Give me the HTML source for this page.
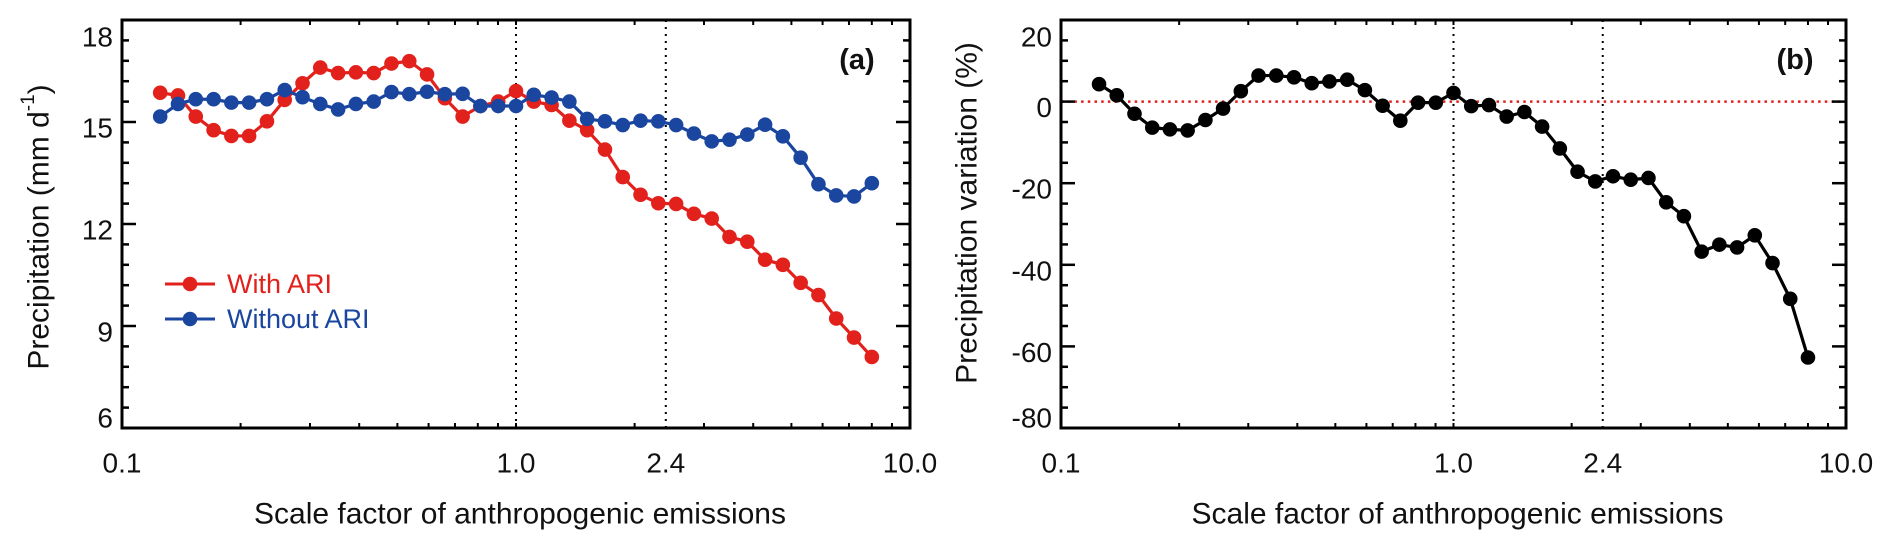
<!DOCTYPE html>
<html><head><meta charset="utf-8"><style>
html,body{margin:0;padding:0;background:#fff;}
svg{display:block;font-family:"Liberation Sans",Arial,sans-serif;}
</style></head><body>
<svg id="chart" width="1892" height="547" viewBox="0 0 1892 547" xmlns="http://www.w3.org/2000/svg"></svg>
<script>
const scaleFactors = [0.125,0.1387,0.1539,0.1708,0.1895,0.2102,0.2333,0.2588,0.2872,0.3186,0.3536,0.3923,0.4353,0.4830,0.5359,0.5946,0.6598,0.7320,0.8123,0.9013,1.0,1.1096,1.2311,1.3660,1.5157,1.6818,1.8661,2.0705,2.2974,2.5491,2.8284,3.1383,3.4822,3.8637,4.2871,4.7568,5.2780,5.8563,6.4980,7.2100,8.0];
const withARI = [15.86,15.78,15.16,14.76,14.59,14.59,15.02,15.65,16.14,16.60,16.44,16.46,16.44,16.72,16.79,16.40,15.70,15.16,15.47,15.60,15.91,15.60,15.50,15.04,14.76,14.19,13.38,12.86,12.61,12.59,12.30,12.16,11.62,11.48,10.95,10.80,10.27,9.91,9.22,8.66,8.09];
const withoutARI = [15.16,15.53,15.67,15.67,15.57,15.57,15.67,15.94,15.73,15.53,15.37,15.53,15.60,15.88,15.82,15.89,15.82,15.83,15.47,15.47,15.47,15.80,15.72,15.60,15.09,15.02,14.91,15.04,15.02,14.91,14.66,14.43,14.48,14.63,14.92,14.58,13.95,13.17,12.84,12.81,13.20];
const variation = [4.26,1.53,-2.98,-6.38,-6.81,-7.06,-4.51,-1.70,2.55,6.38,6.38,5.96,4.51,4.94,5.36,2.81,-1.02,-4.68,-0.26,-0.26,2.13,-1.11,-0.85,-3.66,-2.55,-6.13,-11.49,-17.19,-19.57,-18.30,-19.15,-18.72,-24.68,-28.09,-36.77,-35.06,-35.74,-32.77,-39.57,-48.34,-62.72];
const xTickLabels = ["0.1","1.0","2.4","10.0"];
const xTickValues = [0.1,1.0,2.4,10.0];
const refLines = [1.0,2.4];
const yTicksA = [18,15,12,9,6];
const yTicksB = [20,0,-20,-40,-60,-80];

const NS="http://www.w3.org/2000/svg";
const svg=document.getElementById('chart');
function el(tag,attrs,parent,text){const e=document.createElementNS(NS,tag);for(const k in attrs)e.setAttribute(k,attrs[k]);if(text!==undefined)e.textContent=text;(parent||svg).appendChild(e);return e;}

function panel(cfg){
  const g=el('g',{});
  
  
  const L=cfg.left,R=cfg.right,T=20,B=428;
  const xs=v=>L+(Math.log10(v)+1)/2*(R-L);
  const ys=v=>T+(cfg.ymax-v)/(cfg.ymax-cfg.ymin)*(B-T);
  if(cfg.zero){
    const z=el('line',{x1:L,x2:R,y1:ys(0),y2:ys(0),stroke:'#e0201c','stroke-width':2.5,'stroke-dasharray':'2.5 4.2'},g);
    
    
  }
  refLines.forEach(v=>{
    const l=el('line',{x1:xs(v),x2:xs(v),y1:T,y2:B,stroke:'#000','stroke-width':2,'stroke-dasharray':'2 5'},g);
    
    
  });
  [0.2,0.3,0.4,0.5,0.6,0.7,0.8,0.9,1,2,3,4,5,6,7,8,9].forEach(v=>{
    const x=xs(v);
    el('line',{x1:x,x2:x,y1:B,y2:B-5,stroke:'#000','stroke-width':2},g);
    el('line',{x1:x,x2:x,y1:T,y2:T+5,stroke:'#000','stroke-width':2},g);
  });
  for(let v=cfg.ymin;v<=cfg.ymax+1e-6;v+=cfg.minor){
    const y=ys(v);const major=cfg.ticks.some(t=>Math.abs(t-v)<1e-6);const len=major?14:7;
    el('line',{x1:L,x2:L+len,y1:y,y2:y,stroke:'#000','stroke-width':2.5},g);
    el('line',{x1:R,x2:R-len,y1:y,y2:y,stroke:'#000','stroke-width':2.5},g);
  }
  cfg.ticks.forEach(v=>{
    const y=Math.min(Math.max(ys(v)+6,37),418);
    const t=el('text',{x:L-9,y:y,'text-anchor':'end','dominant-baseline':'central','font-size':28,fill:'#111'},g,String(v));
    
    
  });
  xTickValues.forEach((v,i)=>{
    const t=el('text',{x:xs(v),y:463,'text-anchor':'middle','dominant-baseline':'central','font-size':28,fill:'#111'},g,xTickLabels[i]);
    
    
  });
  const xt=el('text',{x:(L+R)/2+4,y:514,'text-anchor':'middle','dominant-baseline':'central','font-size':30,fill:'#111'},g,'Scale factor of anthropogenic emissions');
  
  
  const yt=el('text',{x:0,y:0,'text-anchor':'middle','dominant-baseline':'central','font-size':30,fill:'#111',transform:`translate(${cfg.ytx},${cfg.yty}) rotate(-90)`},g);
  
  
  if(cfg.unit){yt.textContent='Precipitation (mm d';el('tspan',{dy:-11,'font-size':19},yt,'-1');el('tspan',{dy:11},yt,')');}
  else yt.textContent=cfg.ytitle;
  cfg.series.forEach(s=>{
    const sg=el('g',{},g);
    
    
    el('polyline',{points:scaleFactors.map((x,i)=>xs(x)+','+ys(s.data[i])).join(' '),fill:'none',stroke:s.color,'stroke-width':3.2,'stroke-linejoin':'round'},sg);
    s.data.forEach((v,i)=>{
      const c=el('circle',{cx:xs(scaleFactors[i]),cy:ys(v),r:7.3,fill:s.color},sg);
      
      
    });
  });
  const f=el('rect',{x:L,y:T,width:R-L,height:B-T,fill:'none',stroke:'#000','stroke-width':3},g);
  
  
  const pl=el('text',{x:cfg.labelX,y:60,'text-anchor':'middle','dominant-baseline':'central','font-size':29,'font-weight':'bold',fill:'#111'},g,cfg.label);
  
  
  return {g,xs,ys};
}

panel({name:'panel-a',left:122,right:910,ymin:6,ymax:18,minor:0.6,ticks:yTicksA,unit:true,ytx:39,yty:227,label:'(a)',labelX:857,
  series:[{name:'series-with-ari',data:withARI,color:'#e3211c'},{name:'series-without-ari',data:withoutARI,color:'#1a46a0'}]});
panel({name:'panel-b',left:1061,right:1846,ymin:-80,ymax:20,minor:5,ticks:yTicksB,zero:true,ytitle:'Precipitation variation (%)',ytx:967,yty:213,label:'(b)',labelX:1795,
  series:[{name:'series-variation',data:variation,color:'#000'}]});

const leg=el('g',{});


[['With ARI','#e3211c',284],['Without ARI','#1a46a0',319]].forEach(([t,c,y])=>{
  const e=el('g',{},leg);
  
  
  el('line',{x1:165,x2:215,y1:y,y2:y,stroke:c,'stroke-width':3},e);
  el('circle',{cx:190,cy:y,r:7.3,fill:c},e);
  el('text',{x:227,y:y,'dominant-baseline':'central','font-size':27,fill:c},e,t);
});
</script>
</body></html>
